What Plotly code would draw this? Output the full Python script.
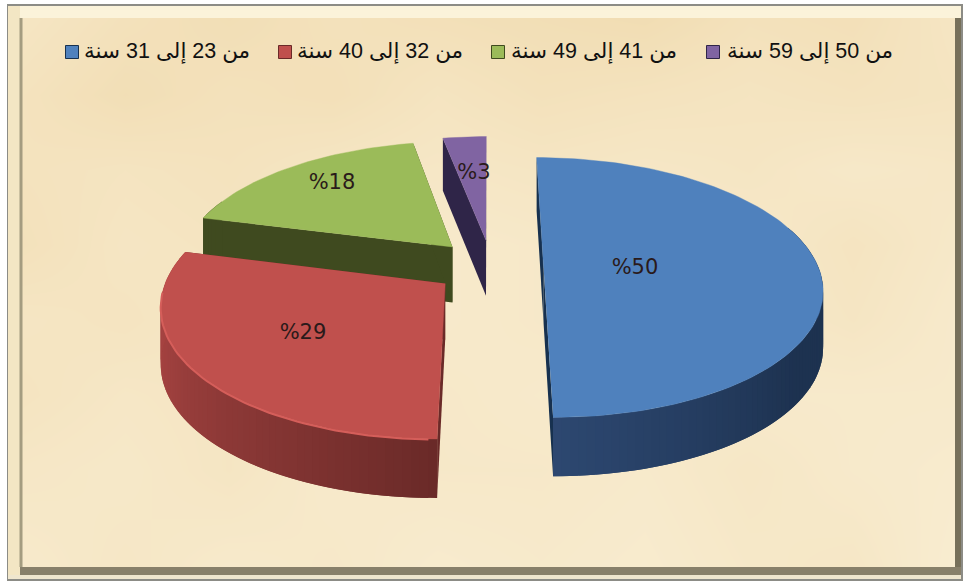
import numpy as np
import plotly.graph_objects as go

# ---- chart data ----
categories = ["من 23 إلى 31 سنة", "من 32 إلى 40 سنة", "من 41 إلى 49 سنة", "من 50 إلى 59 سنة"]
values = [50, 29, 18, 3]
labels = ["%50", "%29", "%18", "%3"]

# ---- styles ----
top_colors = ["#4F81BD", "#C0504D", "#9BBB59", "#8064A2"]
wall_light = ["#2D4871", "#A54341", "#3F4A1F", "#2F2548"]
wall_dark = ["#1D3250", "#6A2A28", "#3F4A1F", "#2F2548"]
radial_colors = ["#17314F", "#6A2A28", "#3F4A1F", "#2F2548"]
# slice displacement on the pie plane (explosion)
explode = [(0.195, 0.0), (-0.16, 0.12), (-0.14, -0.17), (-0.015, -0.225)]
label_xy = [(635, 269), (303, 334), (332, 184), (474, 174)]
legend_key_x = [72, 285, 498, 713]
legend_text_x = [84, 297, 511, 727]

# paper tone, coarse grid (0 = pale, 1 = tan)
paper_x = [21, 125, 229, 333, 437, 541, 645, 749, 853, 955]
paper_y = [18, 95, 170, 245, 320, 395, 470, 568]
paper_tone = [
    [0.45, 0.60, 0.70, 0.60, 0.65, 0.70, 0.75, 0.60, 0.65, 0.45],
    [0.55, 0.70, 0.60, 0.65, 0.50, 0.60, 0.55, 0.50, 0.55, 0.50],
    [0.55, 0.50, 0.55, 0.45, 0.40, 0.45, 0.40, 0.45, 0.35, 0.40],
    [0.60, 0.45, 0.50, 0.40, 0.30, 0.35, 0.40, 0.35, 0.50, 0.35],
    [0.45, 0.50, 0.40, 0.35, 0.30, 0.35, 0.30, 0.35, 0.45, 0.30],
    [0.50, 0.40, 0.45, 0.40, 0.35, 0.30, 0.40, 0.30, 0.30, 0.30],
    [0.40, 0.35, 0.45, 0.30, 0.35, 0.35, 0.30, 0.40, 0.30, 0.25],
    [0.30, 0.40, 0.30, 0.35, 0.25, 0.30, 0.25, 0.35, 0.40, 0.20],
]

START = 0.0
XC, YC, A, B, K, H = 490.0, 268.0, 275.0, 127.0, 0.15, 56.0


def project(u, v, drop=0.0):
    f = 1.0 / (1.0 - K * v)
    return XC + A * u * f, YC + B * v * f + drop * (1 + 0.05 * v)


def mix(c1, c2, t):
    a = [int(c1[i:i + 2], 16) for i in (1, 3, 5)]
    b = [int(c2[i:i + 2], 16) for i in (1, 3, 5)]
    return "rgb(%d,%d,%d)" % tuple(round(p + (q - p) * t) for p, q in zip(a, b))


def poly(xs, ys, color, line=0.0):
    return go.Scatter(x=list(xs), y=list(ys), mode="lines", fill="toself", fillcolor=color,
                      line=dict(color=color, width=line), hoverinfo="skip", showlegend=False)


fig = go.Figure()
fig.add_trace(go.Heatmap(x=paper_x, y=paper_y, z=paper_tone, zsmooth="best", showscale=False, hoverinfo="skip",
                         zmin=0, zmax=1, colorscale=[[0, "#FBF2DB"], [1, "#EED6A6"]]))

# slice angular spans come straight from the values
edges = START + np.cumsum([0] + values) * 360.0 / sum(values)
for i in [3, 2, 0, 1]:
    a0, a1 = edges[i], edges[i + 1]
    du, dv = explode[i]
    deg = np.linspace(a0, a1, max(int((a1 - a0) / 1.5), 4) + 1)
    th = np.radians(deg)
    u = du + np.sin(th)
    v = dv - np.cos(th)
    # radial walls
    for t in (th[0], th[-1]):
        pts = [(du, dv), (du + np.sin(t), dv - np.cos(t))]
        p = [project(*q) for q in pts] + [project(*q, H) for q in pts[::-1]]
        fig.add_trace(poly([a for a, _ in p], [b for _, b in p], radial_colors[i]))
    # rim wall, shaded along the arc; each strip overlaps the next one to hide seams
    for j in range(len(th) - 1):
        if i == 0:
            s = max(0.0, (deg[j] - 125.0) / 55.0)
        else:
            s = min(1.0, (deg[j] - 180.0) / 75.0) ** 0.9
        col = mix(wall_dark[i], wall_light[i], s)
        k = min(j + 2, len(th) - 1)
        x0, y0 = project(u[j], v[j])
        x1, y1 = project(u[k], v[k])
        x2, y2 = project(u[k], v[k], H)
        x3, y3 = project(u[j], v[j], H)
        if np.cos(th[j]) < 0.35:
            fig.add_trace(poly([x0, x1, x2, x3], [y0, y1, y2, y3], col))
    # top face
    xa, ya = project(du, dv)
    xs, ys = project(u, v)
    fig.add_trace(poly([xa, *xs], [ya, *ys], top_colors[i], 0.4))
    if i == 1:
        fig.add_trace(go.Scatter(x=xs[1:-12], y=ys[1:-12] + 0.5, mode="lines", line=dict(color="#D55E5A", width=2),
                                 hoverinfo="skip", showlegend=False))

# percentage labels
fig.add_trace(go.Scatter(x=[p[0] for p in label_xy], y=[p[1] for p in label_xy], mode="text", text=labels,
                         textposition="middle center", hoverinfo="skip", showlegend=False,
                         textfont=dict(family="DejaVu Sans", size=21, color="#2A1A1A")))

# legend keys and texts
fig.add_trace(go.Scatter(x=legend_key_x, y=[52] * 4, mode="markers", hoverinfo="skip", showlegend=False,
                         marker=dict(symbol="square", size=13, color=top_colors,
                                     line=dict(color=radial_colors, width=1))))
fig.add_trace(go.Scatter(x=legend_text_x, y=[53] * 4, mode="text", text=categories,
                         textposition="middle right", hoverinfo="skip", showlegend=False,
                         textfont=dict(family="Liberation Sans, DejaVu Sans", size=21.5, color="#111111")))

# frame, drawn over the paper tone
shapes = [
    dict(type="rect", x0=7, y0=5, x1=962, y1=580, line=dict(color="#8C8C86", width=2), fillcolor="rgba(0,0,0,0)"),
    dict(type="rect", x0=8, y0=6, x1=961, y1=18, line_width=0, fillcolor="#FBF3DA"),
    dict(type="rect", x0=8, y0=6, x1=20, y1=579, line_width=0, fillcolor="#F3E6C4"),
    dict(type="rect", x0=955, y0=18, x1=961, y1=572, line_width=0, fillcolor="#77705A"),
    dict(type="rect", x0=20, y0=567, x1=961, y1=575, line_width=0, fillcolor="#88806A"),
    dict(type="rect", x0=8, y0=575, x1=961, y1=579, line_width=0, fillcolor="#EFE6CE"),
    dict(type="line", x0=21, y0=18, x1=21, y1=567, line=dict(color="#A49C80", width=3)),
    dict(type="rect", x0=0, y0=0, x1=7, y1=583, line_width=0, fillcolor="#FFFFFF"),
    dict(type="rect", x0=0, y0=0, x1=963, y1=4, line_width=0, fillcolor="#FFFFFF"),
    dict(type="rect", x0=0, y0=581, x1=963, y1=583, line_width=0, fillcolor="#FFFFFF"),
]

fig.update_layout(
    width=963, height=583, margin=dict(l=0, r=0, t=0, b=0), autosize=False,
    paper_bgcolor="#FFFFFF", plot_bgcolor="#F7E8C9", shapes=shapes,
    xaxis=dict(range=[0, 963], visible=False, fixedrange=True),
    yaxis=dict(range=[583, 0], visible=False, fixedrange=True),
)
fig.write_html("out.html", config={"displayModeBar": False},
               post_script="document.body.style.margin='0';document.documentElement.style.overflow='hidden';")
